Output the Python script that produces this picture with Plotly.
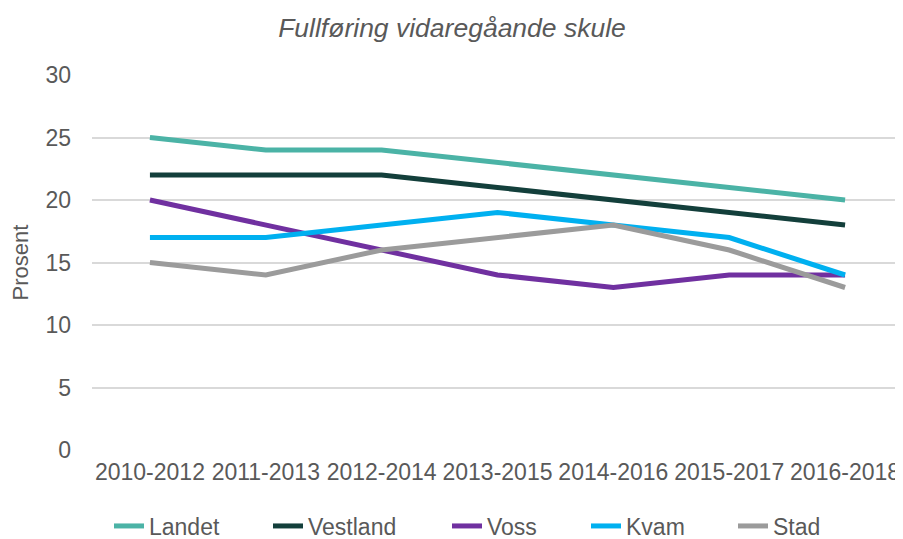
import plotly.graph_objects as go

categories = ["2010-2012", "2011-2013", "2012-2014", "2013-2015", "2014-2016", "2015-2017", "2016-2018"]
landet = [25, 24, 24, 23, 22, 21, 20]
vestland = [22, 22, 22, 21, 20, 19, 18]
voss = [20, 18, 16, 14, 13, 14, 14]
kvam = [17, 17, 18, 19, 18, 17, 14]
stad = [15, 14, 16, 17, 18, 16, 13]
y_ticks = [0, 5, 10, 15, 20, 25, 30]

series_names = ["Landet", "Vestland", "Voss", "Kvam", "Stad"]
series_values = [landet, vestland, voss, kvam, stad]
series_colors = ["#4BB3A6", "#133F3B", "#7030A0", "#00B0F0", "#9B9B9B"]

# page body has an 8px margin, so the figure is drawn 8px smaller and offset
W, H = 895, 531
L, T, B = 84, 67, 89
font_family = "Liberation Sans, Arial, sans-serif"
grey = "#595959"

# legend text start positions (figure px)
legend_text_x = [141, 300, 479, 618, 765]

fig = go.Figure()
legends = {}
for i, (name, vals, col) in enumerate(zip(series_names, series_values, series_colors)):
    lname = "legend" if i == 0 else f"legend{i+1}"
    fig.add_trace(go.Scatter(
        x=categories, y=vals, name=name, mode="lines",
        line=dict(color=col, width=5), legend=lname,
    ))
    lx_px = legend_text_x[i] - 40
    legends[lname] = dict(
        x=lx_px / W, xref="container", xanchor="left",
        y=(H - 518) / H, yref="container", yanchor="middle",
        orientation="h", bgcolor="rgba(0,0,0,0)", borderwidth=0,
        font=dict(size=23, color=grey, family=font_family),
    )

fig.update_layout(
    width=W, height=H,
    margin=dict(l=L, r=0, t=T, b=B, autoexpand=False),
    paper_bgcolor="white", plot_bgcolor="white",
    font=dict(family=font_family, color=grey, size=23),
    title=dict(text="<i>Fullføring vidaregåande skule</i>", x=444 / W, xanchor="center",
               xref="container", y=1 - 20 / H, yanchor="middle", yref="container",
               font=dict(size=26.5, color=grey, family=font_family)),
    showlegend=True,
    xaxis=dict(type="category", range=[-0.5, 6.5], showgrid=False, showline=False,
               zeroline=False, ticks="", tickfont=dict(size=23, color=grey),
               ticklabelstandoff=6, tickangle=0, automargin=False),
    yaxis=dict(range=[0, 30], tickvals=y_ticks, showgrid=True, gridcolor="#D9D9D9",
               gridwidth=1.5, zeroline=False, showline=False, ticks="",
               tickfont=dict(size=23, color=grey), ticklabelstandoff=20, automargin=False,
               title=dict(text="Prosent", font=dict(size=22, color=grey), standoff=21)),
    **legends,
)

fig.write_html("out.html")
